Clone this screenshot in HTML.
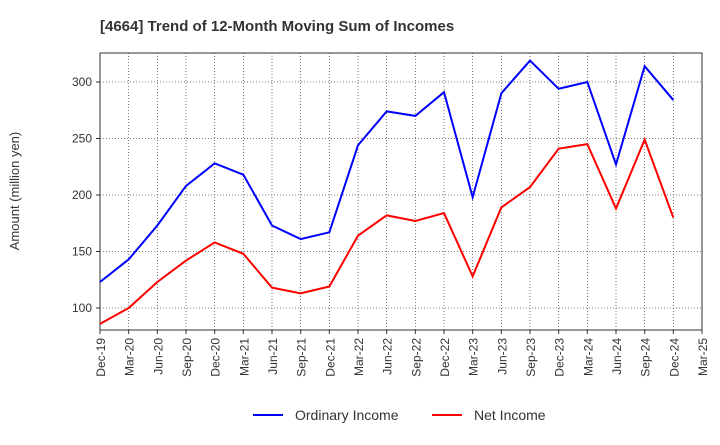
<!DOCTYPE html>
<html><head><meta charset="utf-8"><style>
body{margin:0;background:#fff;font-family:"Liberation Sans",Arial,sans-serif}
</style></head><body>
<svg width="720" height="440" xmlns="http://www.w3.org/2000/svg">
<text x="100" y="31" font-size="15" font-weight="bold" fill="#333">[4664]  Trend of 12-Month Moving Sum of Incomes</text>
<g id="grid"></g>
<rect x="100" y="53" width="602" height="277" fill="none" stroke="#333" stroke-width="1"/>
<g id="axes"></g>
<g id="series"></g>
<text transform="translate(19,191) rotate(-90)" text-anchor="middle" font-size="13" fill="#333">Amount (million yen)</text>
<g>
<line x1="253" y1="415" x2="283" y2="415" stroke="#0000ff" stroke-width="2"/>
<text x="295" y="420" font-size="14" fill="#333">Ordinary Income</text>
<line x1="432" y1="415" x2="462" y2="415" stroke="#ff0000" stroke-width="2"/>
<text x="474" y="420" font-size="14" fill="#333">Net Income</text>
</g>
</svg>
<script>
const tickLabels=["Dec-19","Mar-20","Jun-20","Sep-20","Dec-20","Mar-21","Jun-21","Sep-21","Dec-21","Mar-22","Jun-22","Sep-22","Dec-22","Mar-23","Jun-23","Sep-23","Dec-23","Mar-24","Jun-24","Sep-24","Dec-24","Mar-25"];
const yTicks=[100,150,200,250,300];
const ordinaryIncome=[123,143,173,208,228,218,173,161,167,244,274,270,291,198,290,319,294,300,227,314,284];
const netIncome=[86,100,123,142,158,148,118,113,119,164,182,177,184,128,189,207,241,245,188,249,180];
const NS="http://www.w3.org/2000/svg";
const x0=100,x1=702,y0=53,y1=330;
const xs=i=>x0+i*(x1-x0)/(tickLabels.length-1);
const ys=v=>308-(v-100)*1.13;
const grid=document.getElementById('grid'),axes=document.getElementById('axes'),series=document.getElementById('series');
function mk(t,a,p){const e=document.createElementNS(NS,t);for(const k in a)e.setAttribute(k,a[k]);p.appendChild(e);return e;}
tickLabels.forEach((l,i)=>{
  const x=xs(i);
  const g=mk('line',{x1:x,y1:y0,x2:x,y2:y1,stroke:'#555','stroke-dasharray':'1,2','stroke-width':0.8},grid);
  
  
  const tk=mk('line',{x1:x,y1:y1,x2:x,y2:y1+4,stroke:'#333'},axes);
  
  
  const t=mk('text',{transform:`translate(${x+5},${y1+8}) rotate(-90)`,'text-anchor':'end','font-size':12,fill:'#333'},axes);
  t.textContent=l;
  
  
});
yTicks.forEach(v=>{
  const y=ys(v);
  const g=mk('line',{x1:x0,y1:y,x2:x1,y2:y,stroke:'#555','stroke-dasharray':'1,2','stroke-width':0.8},grid);
  
  
  const tk=mk('line',{x1:x0-4,y1:y,x2:x0,y2:y,stroke:'#333'},axes);
  
  
  const t=mk('text',{x:x0-8,y:y+4,'text-anchor':'end','font-size':12,fill:'#333'},axes);
  t.textContent=v;
  
  
});
function line(d,c,n){
  const p=mk('polyline',{points:d.map((v,i)=>xs(i)+','+ys(v)).join(' '),fill:'none',stroke:c,'stroke-width':2},series);
  
  
}
line(ordinaryIncome,'#0000ff','ordinary-income-line');
line(netIncome,'#ff0000','net-income-line');
</script>
</body></html>
